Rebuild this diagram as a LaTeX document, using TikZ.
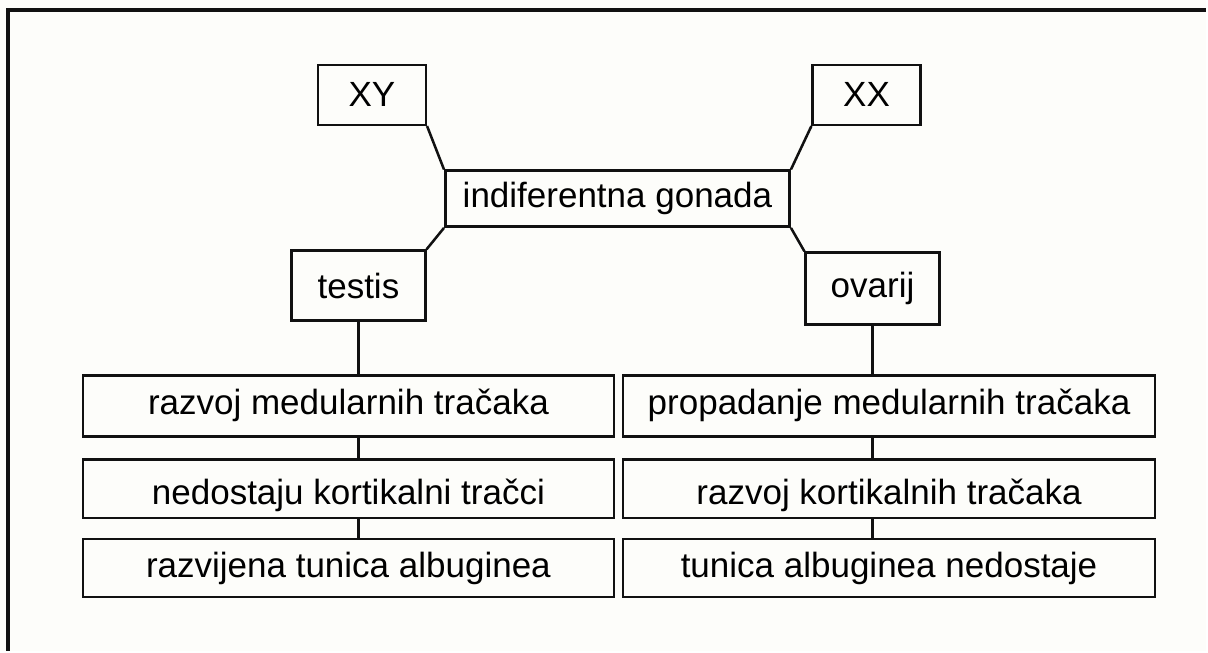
\documentclass[tikz,border=0pt]{standalone}
\usepackage{fontspec}
\setmainfont{Liberation Sans}
\usetikzlibrary{positioning}
\definecolor{paper}{HTML}{FDFDFA}
\definecolor{ink}{HTML}{111111}

\begin{document}
\begin{tikzpicture}[x=0.75pt,y=-0.75pt,
  box/.style 2 args={draw=ink,line width=1.9pt,rectangle,inner sep=0pt,
    minimum width=#1*0.75pt,minimum height=#2*0.75pt,
    font=\fontsize{26.3}{30}\selectfont},
  lowtext/.style={text height=29pt,text depth=5.5pt},
  link/.style={draw=ink,line width=1.9pt}]
  % page and frame
  \fill[paper] (0,0) rectangle (1208,652);
  \draw[ink,line width=3pt] (8,652) -- (8,10) -- (1208,10);
  % top part
  \node[box={108}{60}]  (xy)     at (372.5,95)  {XY};
  \node[box={108}{60}]  (xx)     at (868,95)    {XX};
  \node[box={345}{56}]  (gon)    at (618.5,199) {indiferentna gonada};
  \node[box={134}{70}]  (testis) at (359,286)   {testis};
  \node[box={134}{72}]  (ovarij) at (874,289)   {ovarij};
  % male column
  \node[box={532}{61}]          (m1) at (349,406.5) {razvoj medularnih tračaka};
  \node[box={532}{59},lowtext]  (m2) at (349,489.5) {nedostaju kortikalni tračci};
  \node[box={532}{58}]          (m3) at (349,569)   {razvijena tunica albuginea};
  % female column
  \node[box={533}{61}]          (f1) at (890.5,406.5) {propadanje medularnih tračaka};
  \node[box={533}{59},lowtext]  (f2) at (890.5,489.5) {razvoj kortikalnih tračaka};
  \node[box={533}{58}]          (f3) at (890.5,569)   {tunica albuginea nedostaje};
  % connectors
  \draw[link] (xy.south east) -- (gon.north west);
  \draw[link] (xx.south west) -- (gon.north east);
  \draw[link] (gon.south west) -- (testis.north east);
  \draw[link] (gon.south east) -- (ovarij.north west);
  \draw[link] (testis.south) -- (testis.south |- m1.north);
  \draw[link] (m1.south -| testis) -- (m2.north -| testis);
  \draw[link] (m2.south -| testis) -- (m3.north -| testis);
  \draw[link] (ovarij.south) -- (ovarij.south |- f1.north);
  \draw[link] (f1.south -| ovarij) -- (f2.north -| ovarij);
  \draw[link] (f2.south -| ovarij) -- (f3.north -| ovarij);
\end{tikzpicture}
\end{document}
